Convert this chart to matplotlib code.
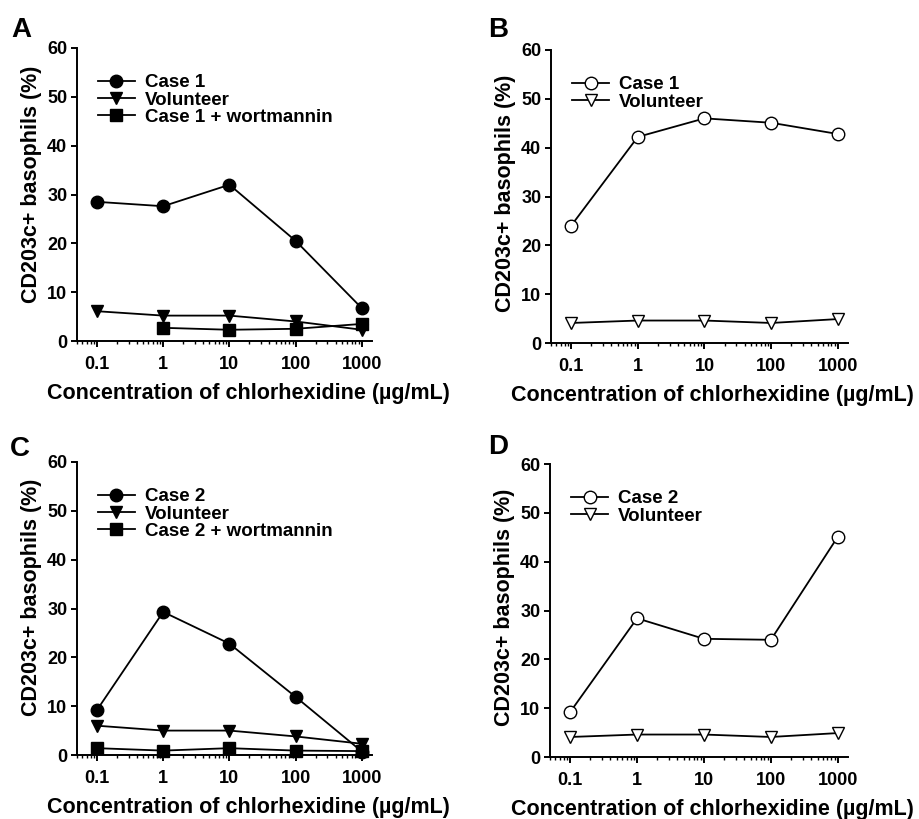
import matplotlib
matplotlib.use("Agg")
import matplotlib.pyplot as plt
from matplotlib.ticker import LogLocator, FixedLocator, NullFormatter

plt.rcParams['font.family'] = ['Liberation Sans', 'DejaVu Sans']
plt.rcParams['font.weight'] = 'bold'

# concentration of chlorhexidine (ug/mL)
conc = [0.1, 1, 10, 100, 1000]
tick_labels = ['0.1', '1', '10', '100', '1000']

# panel A (case 1)
a_case = [28.5, 27.6, 32.0, 20.5, 6.7]
a_vol = [6.1, 5.2, 5.2, 4.0, 2.3]
a_wort_conc = [1, 10, 100, 1000]
a_wort = [2.7, 2.3, 2.5, 3.5]

# panel B (case 1, open symbols)
b_case = [24.0, 42.2, 46.0, 45.1, 42.8]
b_vol = [4.1, 4.6, 4.6, 4.1, 4.9]

# panel C (case 2)
c_case = [9.2, 29.3, 22.8, 11.9, 0.7]
c_vol = [6.0, 5.0, 5.0, 3.8, 2.3]
c_wort = [1.4, 0.9, 1.4, 0.9, 0.8]

# panel D (case 2, open symbols)
d_case = [9.2, 28.4, 24.2, 24.0, 45.1]
d_vol = [4.1, 4.6, 4.6, 4.1, 4.9]

W, H = 919, 819
fig = plt.figure(figsize=(W / 100, H / 100), dpi=100)

# axes boxes in pixels: left, right, top, bottom
boxes = {
    'A': (77, 372, 48, 341),
    'B': (551, 848, 50, 343),
    'C': (77, 372, 462, 755),
    'D': (550, 848, 464, 757),
}
letters_pos = {'A': (21, 30), 'B': (498, 30), 'C': (20, 449), 'D': (498, 447)}
# label centres (axes fraction): x label x, y label y
label_shift = {'A': (0.58, 0.536), 'B': (0.542, 0.512), 'C': (0.58, 0.539), 'D': (0.544, 0.51)}


def make_ax(key):
    l, r, t, b = boxes[key]
    ax = fig.add_axes([l / W, 1 - b / H, (r - l) / W, (b - t) / H])
    ax.set_xscale('log')
    ax.set_xlim(0.05, 1420)
    ax.set_ylim(0, 60)
    ax.set_yticks([0, 10, 20, 30, 40, 50, 60])
    ax.xaxis.set_major_locator(FixedLocator(conc))
    ax.set_xticklabels(tick_labels)
    ax.xaxis.set_minor_locator(LogLocator(base=10, subs=range(2, 10), numticks=20))
    ax.xaxis.set_minor_formatter(NullFormatter())
    ax.spines['top'].set_visible(False)
    ax.spines['right'].set_visible(False)
    for s in ['left', 'bottom']:
        ax.spines[s].set_linewidth(1.4)
    ax.tick_params(which='major', length=4, width=1.4, labelsize=13, pad=3)
    ax.tick_params(axis='x', which='major', pad=7)
    ax.tick_params(which='minor', length=2.5, width=1.0)
    ax.set_xlabel('Concentration of chlorhexidine (µg/mL)', fontsize=15.5, fontweight='bold', labelpad=7)
    ax.set_ylabel('CD203c+ basophils (%)', fontsize=15.5, fontweight='bold', labelpad=4)
    sx, sy = label_shift[key]
    ax.xaxis.label.set_x(sx)
    ax.yaxis.label.set_y(sy)
    lx, ly = letters_pos[key]
    fig.text(lx / W, 1 - ly / H, key, fontsize=20, fontweight='bold', ha='center', va='center')
    return ax


kw = dict(color='black', linewidth=1.3, markersize=9, clip_on=False)

ax = make_ax('A')
ax.plot(conc, a_case, marker='o', label='Case 1', **kw)
ax.plot(conc, a_vol, marker='v', label='Volunteer', **kw)
ax.plot(a_wort_conc, a_wort, marker='s', label='Case 1 + wortmannin', **kw)

ax = make_ax('B')
ax.plot(conc, b_case, marker='o', mfc='white', label='Case 1', **kw)
ax.plot(conc, b_vol, marker='v', mfc='white', label='Volunteer', **kw)

ax = make_ax('C')
ax.plot(conc, c_case, marker='o', label='Case 2', **kw)
ax.plot(conc, c_vol, marker='v', label='Volunteer', **kw)
ax.plot(conc, c_wort, marker='s', label='Case 2 + wortmannin', **kw)

ax = make_ax('D')
ax.plot(conc, d_case, marker='o', mfc='white', label='Case 2', **kw)
ax.plot(conc, d_vol, marker='v', mfc='white', label='Volunteer', **kw)

for a in fig.axes:
    a.legend(loc='upper left', bbox_to_anchor=(0.07, 0.91), frameon=False,
             prop={'size': 13.5, 'weight': 'bold'}, handlelength=2.0,
             handletextpad=0.5, labelspacing=0.0, borderpad=0, borderaxespad=0)

fig.savefig('out.png', dpi=100)
